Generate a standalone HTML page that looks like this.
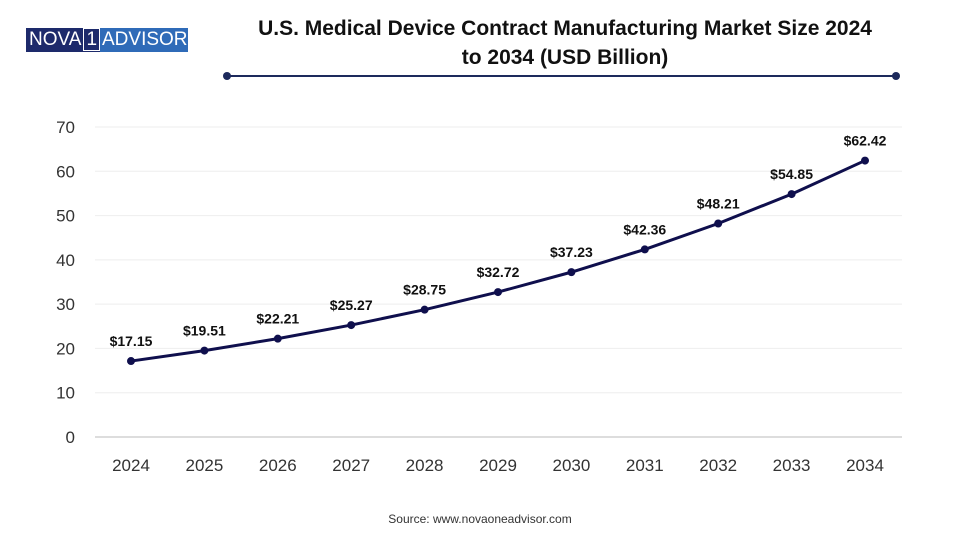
<!DOCTYPE html>
<html><head><meta charset="utf-8"><style>
body{margin:0;background:#fff;font-family:"Liberation Sans",sans-serif;}
#wrap{position:relative;width:960px;height:540px;overflow:hidden;background:#fff;}
</style></head><body>
<div id="wrap">
<div style="position:absolute;left:26px;top:28px;width:159px;height:24px;display:flex;font-size:19px;color:#fff;line-height:24px;">
<div style="background:#1d2a6b;width:74px;padding-left:3px;box-sizing:border-box;">NOVA<span style="border:1px solid #fff;padding:0 2px;margin-left:2px;">1</span></div>
<div style="background:#2f6bb8;flex:1;padding-left:2px;">ADVISOR</div>
</div>
<div style="position:absolute;left:200px;top:14px;width:730px;text-align:center;font-weight:bold;font-size:21px;line-height:29px;color:#111;">U.S. Medical Device Contract Manufacturing Market Size 2024<br>to 2034 (USD Billion)</div>
<svg width="960" height="540" style="position:absolute;left:0;top:0" id="svg">
<line x1="227" y1="76" x2="896" y2="76" stroke="#1d2a5c" stroke-width="2"/>
<circle cx="227" cy="76" r="4" fill="#1d2a5c"/><circle cx="896" cy="76" r="4" fill="#1d2a5c"/>
<text x="480" y="523" text-anchor="middle" font-size="12" fill="#333">Source: www.novaoneadvisor.com</text>
</svg>
</div>
<script>
const categories=["2024","2025","2026","2027","2028","2029","2030","2031","2032","2033","2034"];
const values=[17.15,19.51,22.21,25.27,28.75,32.72,37.23,42.36,48.21,54.85,62.42];
const labels=["$17.15","$19.51","$22.21","$25.27","$28.75","$32.72","$37.23","$42.36","$48.21","$54.85","$62.42"];
const yTicks=[0,10,20,30,40,50,60,70];
const NS="http://www.w3.org/2000/svg",svg=document.getElementById('svg');
const x=i=>131+i*73.4, y=v=>437-v*(310/70);
function mk(t,a){const e=document.createElementNS(NS,t);for(const k in a)e.setAttribute(k,a[k]);svg.appendChild(e);return e;}
yTicks.forEach(v=>{
 const g=mk('line',{x1:95,x2:902,y1:y(v),y2:y(v),stroke:v===0?'#bbb':'#eee','stroke-width':1});
 
 
 const t=mk('text',{x:75,y:y(v)+6,'text-anchor':'end','font-size':17,fill:'#333'});t.textContent=v;
 
 
});
categories.forEach((c,i)=>{
 const t=mk('text',{x:x(i),y:471,'text-anchor':'middle','font-size':17,fill:'#333'});t.textContent=c;
 
 
});
const line=mk('polyline',{points:values.map((v,i)=>x(i)+','+y(v)).join(' '),fill:'none',stroke:'#0f0f4d','stroke-width':3});


values.forEach((v,i)=>{
 const p=mk('circle',{cx:x(i),cy:y(v),r:4,fill:'#0f0f4d'});
 
 
 const t=mk('text',{x:x(i),y:y(v)-15,'text-anchor':'middle','font-size':14,'font-weight':'bold',fill:'#111'});t.textContent=labels[i];
 
 
});
</script>
</body></html>
